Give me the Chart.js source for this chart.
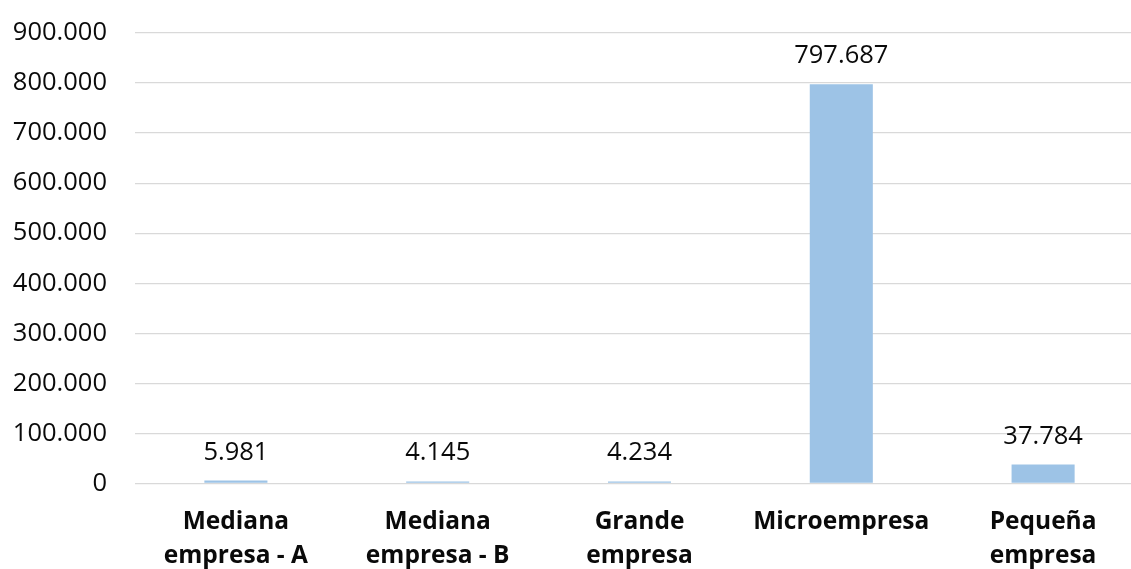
<!DOCTYPE html>
<html lang="es">
<head>
<meta charset="utf-8">
<title>Empresas por tamaño</title>
<script src="https://cdn.jsdelivr.net/npm/chart.js@4.4.1/dist/chart.umd.min.js"></script>
<style>
  html, body { margin: 0; padding: 0; background: #ffffff; overflow: hidden; }
  #wrap { position: relative; width: 1144px; height: 569px; }
</style>
</head>
<body>
<div id="wrap"><canvas id="chart"></canvas></div>
<script>
// Categorías (tamaño de empresa) y número de empresas
const categories = [
  ['Mediana', 'empresa - A'],
  ['Mediana', 'empresa - B'],
  ['Grande', 'empresa'],
  ['Microempresa'],
  ['Pequeña', 'empresa']
];
const values = [5981, 4145, 4234, 797687, 37784];
const yTicks = [0, 100000, 200000, 300000, 400000, 500000, 600000, 700000, 800000, 900000];

const FONT = "'Open Sans', 'DejaVu Sans', sans-serif";
const TEXT = '#0a0a0a';

// Separador de miles con punto
function fmt(n) {
  return String(Math.round(n)).replace(/\B(?=(\d{3})+(?!\d))/g, '.');
}

// Etiquetas de valor encima de cada barra
const valueLabels = {
  id: 'valueLabels',
  afterDatasetsDraw(chart) {
    const ctx = chart.ctx;
    const meta = chart.getDatasetMeta(0);
    ctx.save();
    ctx.font = '25.5px ' + FONT;
    ctx.fillStyle = TEXT;
    ctx.textAlign = 'center';
    ctx.textBaseline = 'alphabetic';
    meta.data.forEach((bar, i) => {
      ctx.fillText(fmt(chart.data.datasets[0].data[i]), bar.x, bar.y - 21);
    });
    ctx.restore();
  }
};

new Chart(document.getElementById('chart'), {
  type: 'bar',
  data: {
    labels: categories,
    datasets: [{
      data: values,
      backgroundColor: '#9DC3E6',
      borderWidth: 0,
      barPercentage: 1,
      categoryPercentage: 0.3125
    }]
  },
  options: {
    responsive: true,
    maintainAspectRatio: false,
    animation: false,
    events: [],
    layout: { padding: { top: 33, right: 0, bottom: 0, left: 0 } },
    plugins: {
      legend: { display: false },
      tooltip: { enabled: false },
      title: { display: false }
    },
    scales: {
      x: {
        grid: { display: false, drawTicks: false },
        border: { display: false },
        ticks: {
          color: TEXT,
          padding: 21,
          maxRotation: 0,
          autoSkip: false,
          font: { family: FONT, size: 24.5, weight: 'bold', lineHeight: 1.4 }
        },
        afterFit(scale) {
          scale.height = 85.5;
          scale.paddingLeft = 0;
          scale.paddingRight = 0;
        }
      },
      y: {
        min: 0,
        max: 900000,
        afterBuildTicks(scale) { scale.ticks = yTicks.map(v => ({ value: v })); },
        grid: { color: '#D9D9D9', lineWidth: 1.3, drawTicks: false },
        border: { display: false },
        ticks: {
          color: TEXT,
          padding: 28,
          font: { family: FONT, size: 25.5 },
          callback: v => fmt(v)
        },
        afterFit(scale) {
          scale.width = 135;
          scale.paddingTop = 0;
          scale.paddingBottom = 0;
        }
      }
    }
  },
  plugins: [valueLabels]
});
</script>
</body>
</html>
